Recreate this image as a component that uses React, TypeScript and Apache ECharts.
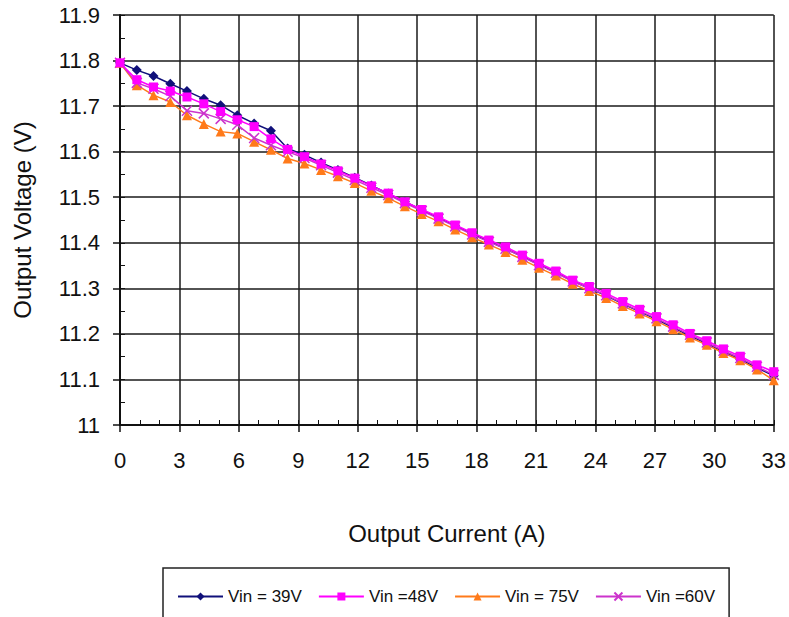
import React, { useEffect, useRef } from "react";
import * as echarts from "echarts";

const currents = [0, 0.85, 1.69, 2.54, 3.38, 4.23, 5.08, 5.92, 6.77, 7.62, 8.46, 9.31, 10.15, 11.0, 11.85, 12.69, 13.54, 14.38, 15.23, 16.08, 16.92, 17.77, 18.62, 19.46, 20.31, 21.15, 22.0, 22.85, 23.69, 24.54, 25.38, 26.23, 27.08, 27.92, 28.77, 29.62, 30.46, 31.31, 32.15, 33.0];

const vin39 = [11.795, 11.779, 11.766, 11.749, 11.733, 11.716, 11.702, 11.68, 11.662, 11.646, 11.607, 11.593, 11.576, 11.56, 11.543, 11.526, 11.508, 11.49, 11.472, 11.455, 11.437, 11.42, 11.403, 11.387, 11.37, 11.352, 11.335, 11.316, 11.3, 11.284, 11.266, 11.249, 11.232, 11.214, 11.196, 11.179, 11.161, 11.144, 11.126, 11.108];

const vin48 = [11.795, 11.758, 11.742, 11.733, 11.72, 11.705, 11.688, 11.67, 11.655, 11.628, 11.605, 11.589, 11.573, 11.558, 11.542, 11.525, 11.509, 11.49, 11.473, 11.457, 11.439, 11.422, 11.406, 11.391, 11.373, 11.355, 11.338, 11.318, 11.304, 11.289, 11.271, 11.254, 11.238, 11.22, 11.201, 11.185, 11.167, 11.151, 11.132, 11.117];

const vin75 = [11.795, 11.746, 11.724, 11.709, 11.68, 11.661, 11.644, 11.64, 11.622, 11.604, 11.585, 11.574, 11.56, 11.546, 11.531, 11.514, 11.498, 11.48, 11.463, 11.447, 11.429, 11.412, 11.396, 11.38, 11.363, 11.345, 11.328, 11.31, 11.294, 11.279, 11.261, 11.245, 11.228, 11.21, 11.192, 11.176, 11.158, 11.142, 11.122, 11.098];

const vin60 = [11.795, 11.751, 11.738, 11.722, 11.69, 11.684, 11.672, 11.659, 11.63, 11.614, 11.6, 11.586, 11.57, 11.554, 11.538, 11.521, 11.505, 11.487, 11.47, 11.453, 11.436, 11.418, 11.402, 11.387, 11.369, 11.351, 11.334, 11.315, 11.3, 11.285, 11.267, 11.25, 11.234, 11.216, 11.198, 11.181, 11.163, 11.147, 11.128, 11.11];

const seriesNames = ["Vin = 39V", "Vin =48V", "Vin = 75V", "Vin =60V"];
const xTitle = "Output Current (A)";
const yTitle = "Output Voltage (V)";

const FONT = "'Liberation Sans', Arial, sans-serif";

export default function App() {
  const ref = useRef<HTMLDivElement>(null);
  useEffect(() => {
    if (!ref.current) return;
    const chart = echarts.init(ref.current, null, { renderer: "svg" });
    const pts = (ys: number[]) => ys.map((y, i) => [currents[i], y]);
    const mk = (name: string, ys: number[], color: string, symbol: string, size: number, z: number, extra: any = {}) => ({
      name,
      type: "line",
      data: pts(ys),
      xAxisIndex: 0,
      yAxisIndex: 0,
      symbol,
      symbolSize: size,
      z,
      lineStyle: { color, width: 1.5 },
      itemStyle: { color, borderColor: color, borderWidth: 0, ...extra },
      emphasis: { disabled: true },
    });
    chart.setOption({
      animation: false,
      textStyle: { fontFamily: FONT },
      grid: { left: 120, right: 11, top: 15, bottom: 192, containLabel: false },
      legend: {
        left: 163,
        top: 568,
        width: 600,
        padding: [20, 14, 20, 14],
        itemWidth: 45,
        itemHeight: 10,
        itemGap: 16,
        borderColor: "#222",
        borderWidth: 1.5,
        textStyle: { fontSize: 17, color: "#111", fontFamily: FONT },
        data: seriesNames,
      },
      xAxis: [
        {
          type: "value",
          min: 0,
          max: 33,
          interval: 3,
          position: "bottom",
          name: xTitle,
          nameLocation: "middle",
          nameGap: 96,
          nameTextStyle: { fontSize: 24, color: "#111", fontFamily: FONT },
          axisLine: { show: true, lineStyle: { color: "#111", width: 2 } },
          axisTick: { show: true, inside: false, length: 7, lineStyle: { color: "#111", width: 1.5 } },
          axisLabel: { fontSize: 22, color: "#111", margin: 24 },
          splitLine: { show: true, lineStyle: { color: "#1a1a1a", width: 1.5 } },
        },
        {
          type: "value",
          min: 0,
          max: 33,
          interval: 1,
          position: "bottom",
          axisLine: { show: false },
          axisTick: { show: true, inside: true, length: 5, lineStyle: { color: "#111", width: 1 } },
          axisLabel: { show: false },
          splitLine: { show: false },
        },
      ],
      yAxis: [
        {
          type: "value",
          min: 11,
          max: 11.9,
          interval: 0.1,
          position: "left",
          name: yTitle,
          nameLocation: "middle",
          nameRotate: 90,
          nameGap: 86,
          nameTextStyle: { fontSize: 24, color: "#111", fontFamily: FONT },
          axisLine: { show: true, lineStyle: { color: "#111", width: 2 } },
          axisTick: { show: true, inside: false, length: 7, lineStyle: { color: "#111", width: 1.5 } },
          axisLabel: {
            fontSize: 22,
            color: "#111",
            margin: 20,
            formatter: (v: number) => String(Math.round(v * 10) / 10),
          },
          splitLine: { show: true, lineStyle: { color: "#1a1a1a", width: 1.5 } },
        },
        {
          type: "value",
          min: 11,
          max: 11.9,
          interval: 0.05,
          position: "left",
          axisLine: { show: false },
          axisTick: { show: true, inside: true, length: 5, lineStyle: { color: "#111", width: 1 } },
          axisLabel: { show: false },
          splitLine: { show: false },
        },
      ],
      series: [
        mk(seriesNames[0], vin39, "#10107a", "diamond", 10, 2),
        mk(seriesNames[1], vin48, "#ff00ff", "rect", 9, 5),
        mk(seriesNames[2], vin75, "#ff7a1a", "triangle", 10, 3),
        mk(seriesNames[3], vin60, "#cc33cc", "path://M0,0L10,10M10,0L0,10", 10, 4, { borderWidth: 1.5 }),
      ],
    });
    return () => chart.dispose();
  }, []);
  return (
    <div
      ref={ref}
      style={{ position: "fixed", left: 0, top: 0, width: 789, height: 617, background: "#fff" }}
    />
  );
}
